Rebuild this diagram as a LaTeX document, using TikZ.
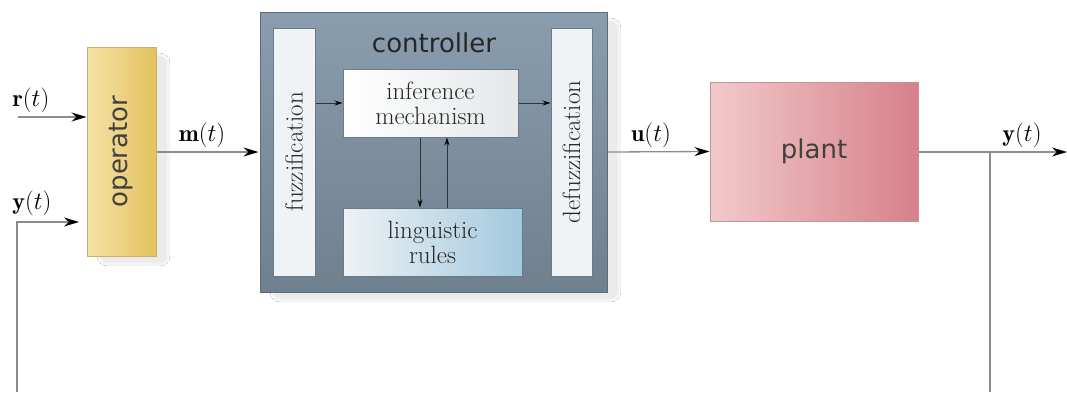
\documentclass[tikz,border=0pt]{standalone}
\usepackage{fontspec}
\newfontfamily\sansf{DejaVu Sans}
\usetikzlibrary{arrows.meta,shadows.blur}
\definecolor{linegray}{HTML}{8C8C8C}
\definecolor{opl}{HTML}{F5E2A6}
\definecolor{opr}{HTML}{E3C25E}
\definecolor{opb}{HTML}{C9B06A}
\definecolor{ctl}{HTML}{8A9DAE}
\definecolor{ctr}{HTML}{6F808F}
\definecolor{ctb}{HTML}{5C6B78}
\definecolor{pll}{HTML}{F2CACA}
\definecolor{plr}{HTML}{D6808A}
\definecolor{plb}{HTML}{C29494}
\definecolor{rul}{HTML}{EEF2F4}
\definecolor{rur}{HTML}{A2C9DE}
\definecolor{barc}{HTML}{EFF3F5}
\definecolor{inbd}{HTML}{6A7A88}
\tikzset{
  sig/.style={draw=linegray,line width=1.3pt,-{Stealth[length=15pt,width=9pt,black]}},
  plainsig/.style={draw=linegray,line width=1.3pt},
  inarrow/.style={draw=black!80,line width=1pt,-{Stealth[length=8pt,width=5pt,black]}},
  lab/.style={font=\fontsize{24}{26}\selectfont},
  sanslab/.style={font=\sansf\fontsize{26}{28}\selectfont},
  seriflab/.style={font=\fontsize{25}{25}\selectfont,align=center},
  softshadow/.style={blur shadow={shadow xshift=12pt,shadow yshift=-8pt,shadow opacity=8,shadow blur steps=10,shadow blur extra rounding=8pt}},
}
\begin{document}
\begin{tikzpicture}[x=1pt,y=-1pt]
\useasboundingbox[fill=white] (0,0) rectangle (1067,392);
% operator
\node[softshadow,draw=opb,line width=1pt,left color=opl,right color=opr,minimum width=69pt,minimum height=209pt,inner sep=0pt] (op) at (121.5,151.5) {};
\node[sanslab,rotate=90,text=black!75] (optxt) at (op.center) {operator};
% controller
\node[softshadow,draw=ctb,line width=1pt,top color=ctl,bottom color=ctr,minimum width=347pt,minimum height=280pt,inner sep=0pt] (ctrl) at (433.5,152) {};
\node[sanslab,text=black!85] (cttxt) at (434,43) {controller};
\node[draw=inbd,line width=1pt,fill=barc,minimum width=42pt,minimum height=248pt,inner sep=0pt] (fuzz) at (294,152) {};
\node[seriflab,rotate=90,text=black!85] (fuzztxt) at (fuzz.center) {fuzzification};
\node[draw=inbd,line width=1pt,fill=barc,minimum width=41pt,minimum height=248pt,inner sep=0pt] (defuzz) at (571.5,152) {};
\node[seriflab,rotate=90,text=black!85] (defuzztxt) at (defuzz.center) {defuzzification};
\node[draw=inbd,line width=1pt,left color=white,right color=barc!90!gray,minimum width=175pt,minimum height=68pt,inner sep=0pt] (inf) at (430.5,103) {};
\node[seriflab,text=black!85] (inftxt) at (inf.center) {inference\\mechanism};
\node[draw=inbd,line width=1pt,left color=rul,right color=rur,minimum width=179pt,minimum height=68pt,inner sep=0pt] (rules) at (432.5,242) {};
\node[seriflab,text=black!85] (rulestxt) at (rules.center) {linguistic\\rules};
% plant
\node[draw=plb,line width=1pt,left color=pll,right color=plr,minimum width=208pt,minimum height=139pt,inner sep=0pt] (plant) at (814,151.5) {};
\node[sanslab,text=black!75] (planttxt) at (plant.center) {plant};
% coordinates
\coordinate (rin) at (18,117);
\coordinate (fb0) at (17,392);
\coordinate (fbc) at (17,222);
\coordinate (fbend) at (79,222);
\coordinate (yout) at (1067,152);
\coordinate (br) at (990,152);
\coordinate (brb) at (990,392);
% signal connectors
\draw[sig] (rin) -- (rin -| op.west);
\draw[sig] (fb0) -- (fbc) -- (fbend);
\draw[sig] (op.east |- ctrl.west) -- ([xshift=-1pt]ctrl.west);
\draw[sig] (ctrl.east) -- (plant.west);
\draw[sig] (plant.east |- yout) -- (yout);
\draw[plainsig] (br) -- (brb);
% inner connectors
\draw[inarrow] (fuzz.east |- inf.west) -- (inf.west);
\draw[inarrow] (inf.east) -- (inf.east -| defuzz.west);
\draw[inarrow] ([xshift=-10.5pt]inf.south) -- ([xshift=-10.5pt]inf.south |- rules.north);
\draw[inarrow] ([xshift=16.5pt]inf.south |- rules.north) -- ([xshift=16.5pt]inf.south);
% labels
\node[lab] (rl) at (31,100) {$\mathbf{r}(t)$};
\node[lab] (yl) at (32,203) {$\mathbf{y}(t)$};
\node[lab] (ml) at (202,135) {$\mathbf{m}(t)$};
\node[lab] (ul) at (651,135) {$\mathbf{u}(t)$};
\node[lab] (yol) at (1022,135) {$\mathbf{y}(t)$};
\end{tikzpicture}
\end{document}
